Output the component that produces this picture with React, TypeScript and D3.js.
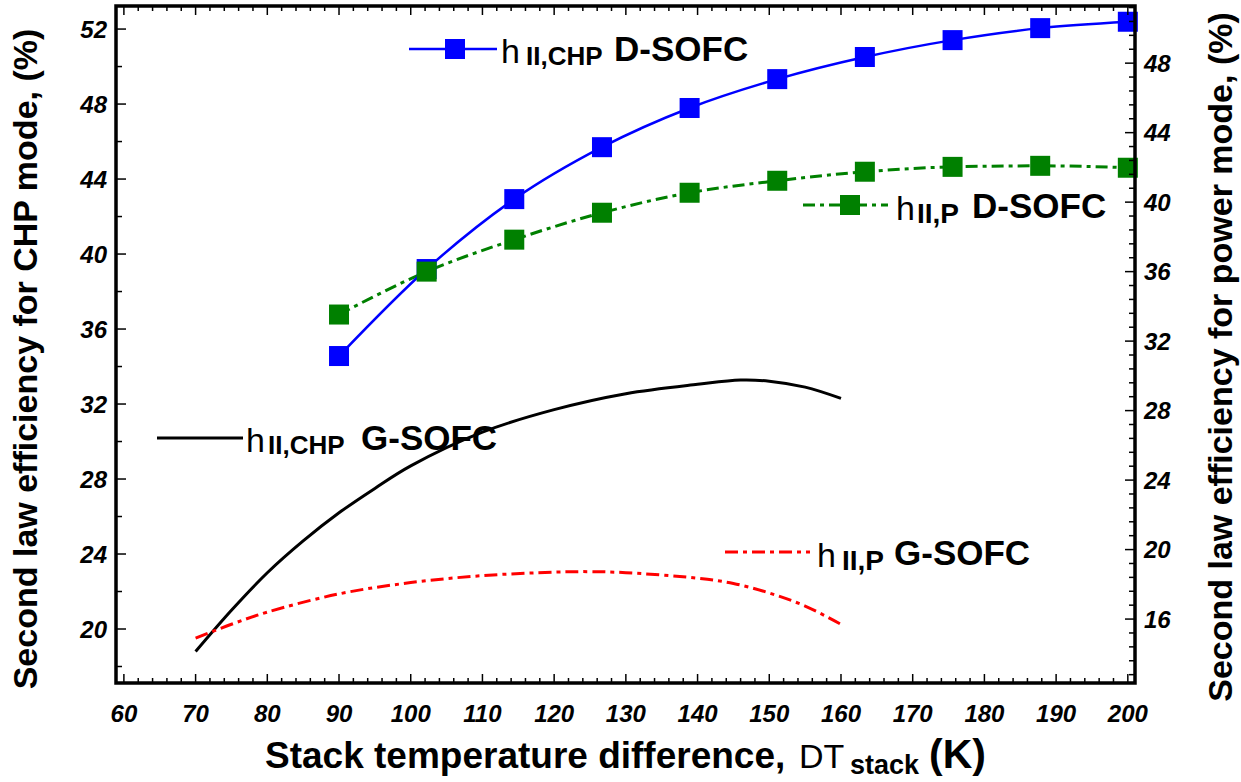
import React from "react";
import * as d3 from "d3";

// ---------- data ----------
const dsofcX = [90, 102.22, 114.44, 126.67, 138.89, 151.11, 163.33, 175.56, 187.78, 200];
const dsofcChp = [34.56, 39.2, 42.93, 45.7, 47.79, 49.33, 50.51, 51.41, 52.05, 52.39]; // left axis
const dsofcP = [33.53, 36.0, 37.84, 39.39, 40.54, 41.23, 41.75, 42.03, 42.09, 41.98]; // right axis

const gsofcChpX = [70, 75, 80, 85, 90, 95, 100, 110, 120, 130, 140, 146, 150, 155, 160];
const gsofcChp = [18.8, 21.0, 23.0, 24.7, 26.2, 27.5, 28.7, 30.5, 31.7, 32.55, 33.05, 33.28, 33.22, 32.9, 32.3]; // left axis

const gsofcPX = [70, 75, 80, 90, 100, 110, 120, 125, 130, 140, 145, 150, 155, 160];
const gsofcP = [14.9, 15.7, 16.4, 17.45, 18.1, 18.5, 18.7, 18.73, 18.67, 18.35, 18.05, 17.5, 16.75, 15.7]; // right axis

const xMajorTicks = [60, 70, 80, 90, 100, 110, 120, 130, 140, 150, 160, 170, 180, 190, 200];
const leftMajorTicks = [20, 24, 28, 32, 36, 40, 44, 48, 52];
const rightMajorTicks = [16, 20, 24, 28, 32, 36, 40, 44, 48];

// ---------- layout ----------
const W = 1241;
const H = 782;
const L = 116, R = 1135, T = 6, B = 683;
const FONT = "'Liberation Sans', Arial, Helvetica, sans-serif";

const x = d3.scaleLinear().domain([58.9, 201]).range([L, R]);
const yL = d3.scaleLinear().domain([17.12, 53.23]).range([B, T]);
const yR = d3.scaleLinear().domain([12.32, 51.29]).range([B, T]);

const xMinor = d3.range(60, 201, 2).filter((v) => v % 10 !== 0);
const leftMinor = d3.range(18, 53.2, 2).filter((v) => v % 4 !== 0);
const rightMinor = d3
  .range(0, 50)
  .map((i) => +(12.8 + i * 0.8).toFixed(2))
  .filter((v) => v <= 51.29 && Math.abs(v / 4 - Math.round(v / 4)) > 1e-6);

function lineGen(xs: number[], ys: number[], yScale: d3.ScaleLinear<number, number>, curve: d3.CurveFactory) {
  const pts = xs.map((v, i) => [v, ys[i]] as [number, number]);
  return (
    d3
      .line<[number, number]>()
      .x((d) => x(d[0]))
      .y((d) => yScale(d[1]))
      .curve(curve)(pts) || ""
  );
}

const BLUE = "#0000ff";
const GREEN = "#008000";
const RED = "#ff0000";
const GREEN_DASH = "12,5,4,5";
const RED_DASH = "13,5,4,5";
const MS = 20; // marker size

export default function App() {
  const bluePath = lineGen(dsofcX, dsofcChp, yL, d3.curveMonotoneX);
  const greenPath = lineGen(dsofcX, dsofcP, yR, d3.curveMonotoneX);
  const blackPath = lineGen(gsofcChpX, gsofcChp, yL, d3.curveCatmullRom);
  const redPath = lineGen(gsofcPX, gsofcP, yR, d3.curveCatmullRom);

  const tickStyle = { fontFamily: FONT, fontSize: 24, fontWeight: 700, fontStyle: "italic" as const };

  return (
    <svg width={W} height={H} style={{ position: "absolute", left: 0, top: 0, background: "#fff" }}>
      <rect x={0} y={0} width={W} height={H} fill="#fff" />

      {/* data lines */}
      <path d={blackPath} fill="none" stroke="#000" strokeWidth={3} />
      <path d={redPath} fill="none" stroke={RED} strokeWidth={3} strokeDasharray={RED_DASH} />
      <path d={greenPath} fill="none" stroke={GREEN} strokeWidth={3} strokeDasharray={GREEN_DASH} />
      <path d={bluePath} fill="none" stroke={BLUE} strokeWidth={2.5} />
      {dsofcX.map((v, i) => (
        <rect key={"b" + i} x={x(v) - MS / 2} y={yL(dsofcChp[i]) - MS / 2} width={MS} height={MS} fill={BLUE} />
      ))}
      {dsofcX.map((v, i) => (
        <rect key={"g" + i} x={x(v) - MS / 2} y={yR(dsofcP[i]) - MS / 2} width={MS} height={MS} fill={GREEN} />
      ))}

      {/* frame */}
      <rect x={L} y={T} width={R - L} height={B - T} fill="none" stroke="#000" strokeWidth={3.5} />

      {/* x ticks bottom and top */}
      {xMajorTicks.map((v) => (
        <g key={"xt" + v}>
          <line x1={x(v)} x2={x(v)} y1={B} y2={B - 9} stroke="#000" strokeWidth={1.5} />
          <line x1={x(v)} x2={x(v)} y1={T} y2={T + 9} stroke="#000" strokeWidth={1.5} />
          <text x={x(v)} y={722} textAnchor="middle" {...tickStyle}>
            {v}
          </text>
        </g>
      ))}
      {xMinor.map((v) => (
        <g key={"xm" + v}>
          <line x1={x(v)} x2={x(v)} y1={B} y2={B - 5} stroke="#000" strokeWidth={1.5} />
          <line x1={x(v)} x2={x(v)} y1={T} y2={T + 5} stroke="#000" strokeWidth={1.5} />
        </g>
      ))}

      {/* left axis ticks */}
      {leftMajorTicks.map((v) => (
        <g key={"lt" + v}>
          <line x1={L} x2={L + 10} y1={yL(v)} y2={yL(v)} stroke="#000" strokeWidth={1.5} />
          <text x={107} y={yL(v) + 8.5} textAnchor="end" {...tickStyle}>
            {v}
          </text>
        </g>
      ))}
      {leftMinor.map((v) => (
        <line key={"lm" + v} x1={L} x2={L + 6} y1={yL(v)} y2={yL(v)} stroke="#000" strokeWidth={1.5} />
      ))}

      {/* right axis ticks */}
      {rightMajorTicks.map((v) => (
        <g key={"rt" + v}>
          <line x1={R} x2={R - 10} y1={yR(v)} y2={yR(v)} stroke="#000" strokeWidth={1.5} />
          <text x={1144} y={yR(v) + 8.5} textAnchor="start" {...tickStyle}>
            {v}
          </text>
        </g>
      ))}
      {rightMinor.map((v) => (
        <line key={"rm" + v} x1={R} x2={R - 6} y1={yR(v)} y2={yR(v)} stroke="#000" strokeWidth={1.5} />
      ))}

      {/* axis titles */}
      <text
        transform={`translate(37,${359}) rotate(-90)`}
        textAnchor="middle"
        fontFamily={FONT}
        fontWeight={700}
        fontSize={34}
      >
        Second law efficiency for CHP mode, (%)
      </text>
      <text
        transform={`translate(1232,${357}) rotate(-90)`}
        textAnchor="middle"
        fontFamily={FONT}
        fontWeight={700}
        fontSize={34}
      >
        Second law efficiency for power mode, (%)
      </text>
      <g fontFamily={FONT}>
        <text x={265} y={768} fontWeight={700} fontSize={37}>
          Stack temperature difference,
        </text>
        <text x={799} y={768} fontWeight={400} fontSize={34}>
          DT
        </text>
        <text x={850} y={774} fontWeight={700} fontSize={27}>
          stack
        </text>
        <text x={929} y={768} fontWeight={700} fontSize={41}>
          (K)
        </text>
      </g>

      {/* legends */}
      <g fontFamily={FONT}>
        {/* blue D-SOFC CHP */}
        <line x1={409} x2={497} y1={49} y2={49} stroke={BLUE} strokeWidth={2.5} />
        <rect x={455 - MS / 2} y={49 - MS / 2} width={MS} height={MS} fill={BLUE} />
        <text x={501} y={63} fontSize={34} fontWeight={400}>h</text>
        <text x={526} y={65} fontSize={26} fontWeight={700}>II,CHP</text>
        <text x={614} y={61} fontSize={35} fontWeight={700}>D-SOFC</text>

        {/* green D-SOFC P */}
        <line x1={803} x2={888} y1={205} y2={205} stroke={GREEN} strokeWidth={3} strokeDasharray={GREEN_DASH} />
        <rect x={850 - MS / 2} y={205 - MS / 2} width={MS} height={MS} fill={GREEN} />
        <text x={896} y={220} fontSize={34} fontWeight={400}>h</text>
        <text x={917} y={223} fontSize={28} fontWeight={700}>II,P</text>
        <text x={972} y={218} fontSize={35} fontWeight={700}>D-SOFC</text>

        {/* black G-SOFC CHP */}
        <line x1={157} x2={243} y1={438} y2={438} stroke="#000" strokeWidth={3} />
        <text x={246} y={452} fontSize={34} fontWeight={400}>h</text>
        <text x={268} y={454} fontSize={26} fontWeight={700}>II,CHP</text>
        <text x={361} y={450} fontSize={35} fontWeight={700}>G-SOFC</text>

        {/* red G-SOFC P */}
        <line x1={725} x2={810} y1={552} y2={552} stroke={RED} strokeWidth={3} strokeDasharray={RED_DASH} />
        <text x={817} y={567} fontSize={34} fontWeight={400}>h</text>
        <text x={842} y={570} fontSize={28} fontWeight={700}>II,P</text>
        <text x={894} y={565} fontSize={35} fontWeight={700}>G-SOFC</text>
      </g>
    </svg>
  );
}
